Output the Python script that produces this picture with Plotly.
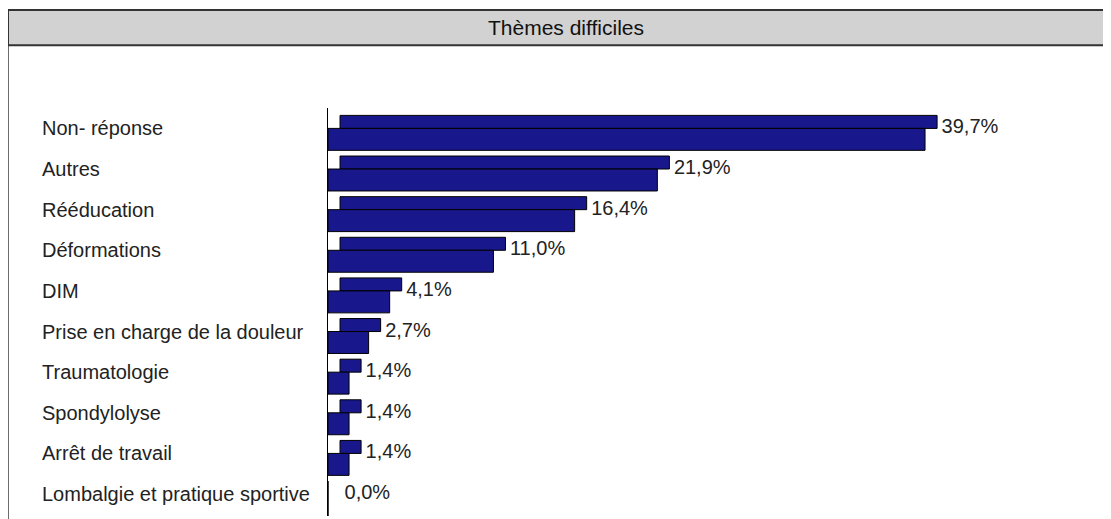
import plotly.graph_objects as go

categories = ["Non- réponse", "Autres", "Rééducation", "Déformations", "DIM",
              "Prise en charge de la douleur", "Traumatologie", "Spondylolyse",
              "Arrêt de travail", "Lombalgie et pratique sportive"]
values = [39.7, 21.9, 16.4, 11.0, 4.1, 2.7, 1.4, 1.4, 1.4, 0.0]

depth = 0.8  # pseudo 3D depth, in % units
navy = "#18188c"
txt_font = dict(size=20, color="#222", family="Liberation Sans, Arial")

fig = go.Figure()

# top face (shifted right by depth)
fig.add_trace(go.Bar(
    y=categories, x=values, base=[depth if v > 0 else 0 for v in values],
    orientation="h", width=0.32, offset=-0.32,
    marker=dict(color=navy, line=dict(color="black", width=1)),
    hoverinfo="skip", showlegend=False))

# front face
fig.add_trace(go.Bar(
    y=categories, x=values, orientation="h", width=0.54, offset=0,
    marker=dict(color=navy, line=dict(color="black", width=1)),
    showlegend=False))

# value labels
fig.add_trace(go.Scatter(
    y=categories, x=[v + depth + 0.3 for v in values], mode="text",
    text=[f"{v:.1f}%".replace(".", ",") for v in values],
    textposition="middle right", textfont=txt_font,
    hoverinfo="skip", showlegend=False))

# category labels, left aligned
for c in categories:
    fig.add_annotation(x=-0.3726, y=c, xref="paper", yref="y", text=c,
                       showarrow=False, xanchor="left", yanchor="middle",
                       font=txt_font)

# header band + frame
fig.add_shape(type="rect", xref="paper", yref="paper",
              x0=-0.414, x1=1.02, y0=1.154, y1=1.240,
              fillcolor="#d2d2d2", line=dict(color="#333", width=2))
fig.add_shape(type="line", xref="paper", yref="paper",
              x0=-0.414, x1=-0.414, y0=-0.05, y1=1.240,
              line=dict(color="#333", width=1.5))
fig.add_annotation(x=0.308, y=1.1975, xref="paper", yref="paper",
                   text="Thèmes difficiles", showarrow=False,
                   xanchor="center", yanchor="middle",
                   font=dict(size=21, color="#111", family="Liberation Sans, Arial"))

fig.update_xaxes(range=[0, 51.4], visible=False)
fig.update_yaxes(categoryorder="array", categoryarray=categories,
                 autorange="reversed", showticklabels=False,
                 showline=True, linecolor="black", linewidth=1,
                 showgrid=False, zeroline=False)

fig.update_layout(width=1103, height=511, barmode="overlay",
                  paper_bgcolor="white", plot_bgcolor="white",
                  margin=dict(l=320, r=10, t=100, b=3),
                  font=dict(family="Liberation Sans, Arial"))

fig.write_html("out.html")
